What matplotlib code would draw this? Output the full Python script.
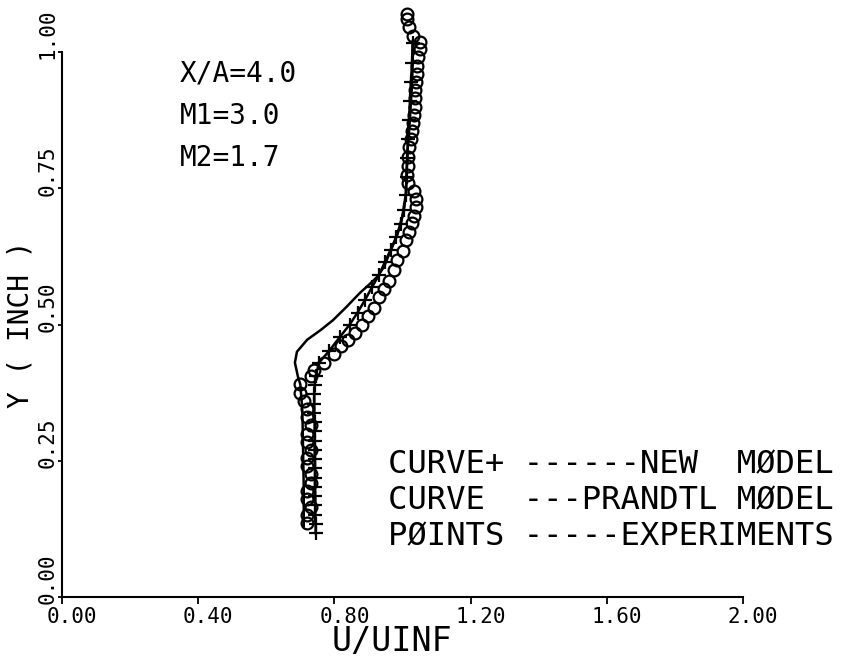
import matplotlib
matplotlib.use("Agg")
import matplotlib.pyplot as plt
import matplotlib.transforms as mtransforms

# experiments (circles)
exp_y = [0.135, 0.150, 0.165, 0.180, 0.195, 0.210, 0.225, 0.240, 0.255, 0.270,
         0.285, 0.300, 0.315, 0.330, 0.345, 0.360, 0.375, 0.390, 0.405, 0.417,
         0.430, 0.445, 0.460, 0.472, 0.485, 0.500, 0.515, 0.530, 0.550, 0.565,
         0.580, 0.600, 0.618, 0.635, 0.655, 0.670, 0.686, 0.700, 0.715, 0.730,
         0.745, 0.760, 0.775, 0.790, 0.807, 0.825, 0.840, 0.855, 0.870, 0.885,
         0.900, 0.915, 0.930, 0.945, 0.960, 0.975, 0.990, 1.005, 1.018, 1.030,
         1.045, 1.060, 1.070]
exp_u = [0.720, 0.720, 0.730, 0.720, 0.720, 0.730, 0.730, 0.720, 0.720, 0.730,
         0.720, 0.720, 0.730, 0.720, 0.720, 0.710, 0.700, 0.700, 0.730, 0.740,
         0.770, 0.800, 0.820, 0.840, 0.860, 0.880, 0.900, 0.915, 0.930, 0.945,
         0.960, 0.975, 0.985, 1.000, 1.010, 1.020, 1.028, 1.035, 1.040, 1.040,
         1.035, 1.015, 1.013, 1.015, 1.016, 1.020, 1.025, 1.028, 1.030, 1.033,
         1.036, 1.037, 1.038, 1.040, 1.042, 1.043, 1.046, 1.050, 1.050, 1.030,
         1.020, 1.013, 1.012]

# new model (CURVE+)
new_y = [0.117, 0.134, 0.151, 0.168, 0.185, 0.202, 0.219, 0.236, 0.253, 0.270,
         0.287, 0.304, 0.321, 0.338, 0.355, 0.372, 0.389, 0.405, 0.430, 0.452,
         0.477, 0.500, 0.522, 0.545, 0.568, 0.590, 0.614, 0.637, 0.661, 0.685,
         0.710, 0.737, 0.771, 0.805, 0.840, 0.875, 0.910, 0.945, 0.980, 1.016]
new_u = [0.745, 0.745, 0.744, 0.744, 0.744, 0.743, 0.743, 0.743, 0.743, 0.742,
         0.742, 0.742, 0.742, 0.741, 0.741, 0.741, 0.742, 0.745, 0.755, 0.785,
         0.816, 0.845, 0.868, 0.890, 0.910, 0.930, 0.948, 0.965, 0.982, 0.995,
         1.004, 1.010, 1.012, 1.014, 1.016, 1.019, 1.022, 1.025, 1.028, 1.030]

# prandtl model (CURVE)
pr_y = [0.130, 0.200, 0.270, 0.340, 0.390, 0.404, 0.430, 0.450, 0.472, 0.490,
        0.508, 0.532, 0.558, 0.575, 0.587, 0.605, 0.635, 0.665, 0.700, 0.740,
        0.780, 0.820, 0.860, 0.900, 0.940, 0.980, 1.020]
pr_u = [0.710, 0.710, 0.708, 0.706, 0.700, 0.693, 0.684, 0.690, 0.720, 0.760,
        0.796, 0.835, 0.875, 0.905, 0.925, 0.945, 0.965, 0.985, 1.000, 1.010,
        1.012, 1.015, 1.020, 1.024, 1.028, 1.030, 1.030]

xticks = [0.0, 0.4, 0.8, 1.2, 1.6, 2.0]
yticks = [0.0, 0.25, 0.5, 0.75, 1.0]

mono = "DejaVu Sans Mono"

fig = plt.figure(figsize=(8.41, 6.61), dpi=100)
ax = fig.add_axes([62 / 841, 64 / 661, 681 / 841, 545 / 661])

ax.plot(pr_u, pr_y, color="black", lw=1.8, clip_on=False)
ax.plot(new_u, new_y, color="black", lw=1.8, marker="+", ms=10, mew=1.6, clip_on=False)
ax.plot(exp_u, exp_y, ls="none", marker="o", ms=8.5, mfc="none", mec="black",
        mew=1.6, clip_on=False)

ax.set_xlim(0, 2.0)
ax.set_ylim(0, 1.0)
ax.spines["top"].set_visible(False)
ax.spines["right"].set_visible(False)
ax.spines["left"].set_linewidth(1.5)
ax.spines["bottom"].set_linewidth(1.5)

ax.set_xticks(xticks)
ax.set_xticklabels(["%.2f" % v for v in xticks], family=mono, fontsize=15)
ax.set_yticks(yticks)
ax.set_yticklabels(["%.2f" % v for v in yticks], family=mono, fontsize=15,
                   rotation=90, va="center")
ax.tick_params(axis="x", direction="out", length=5, width=1.3, pad=2)
ax.tick_params(axis="y", direction="out", length=3, width=1.3, pad=0.5)

# plotter style: decimal point sits near the tick
dx = mtransforms.ScaledTranslation(0.10, 0, fig.dpi_scale_trans)
for lab in ax.get_xticklabels():
    lab.set_transform(lab.get_transform() + dx)
dy = mtransforms.ScaledTranslation(0, 0.18, fig.dpi_scale_trans)
for lab in ax.get_yticklabels():
    lab.set_transform(lab.get_transform() + dy)

ax.set_xlabel("U/UINF", family=mono, fontsize=24, labelpad=-3)
ax.set_ylabel("Y ( INCH )", family=mono, fontsize=20, labelpad=2)
ax.xaxis.set_label_coords(0.485, -0.052)

# case annotation
for i, s in enumerate(["X/A=4.0", "M1=3.0", "M2=1.7"]):
    fig.text(180 / 841, 1 - (82 + 42 * i) / 661, s, family=mono, fontsize=20,
             va="baseline")

# legend text block
legend_lines = ["CURVE+ ------NEW  MØDEL",
                "CURVE  ---PRANDTL MØDEL",
                "PØINTS -----EXPERIMENTS"]
for i, s in enumerate(legend_lines):
    fig.text(388 / 841, 1 - (473 + 36 * i) / 661, s, family=mono, fontsize=23.2,
             va="baseline")

fig.savefig("out.png", dpi=100)
